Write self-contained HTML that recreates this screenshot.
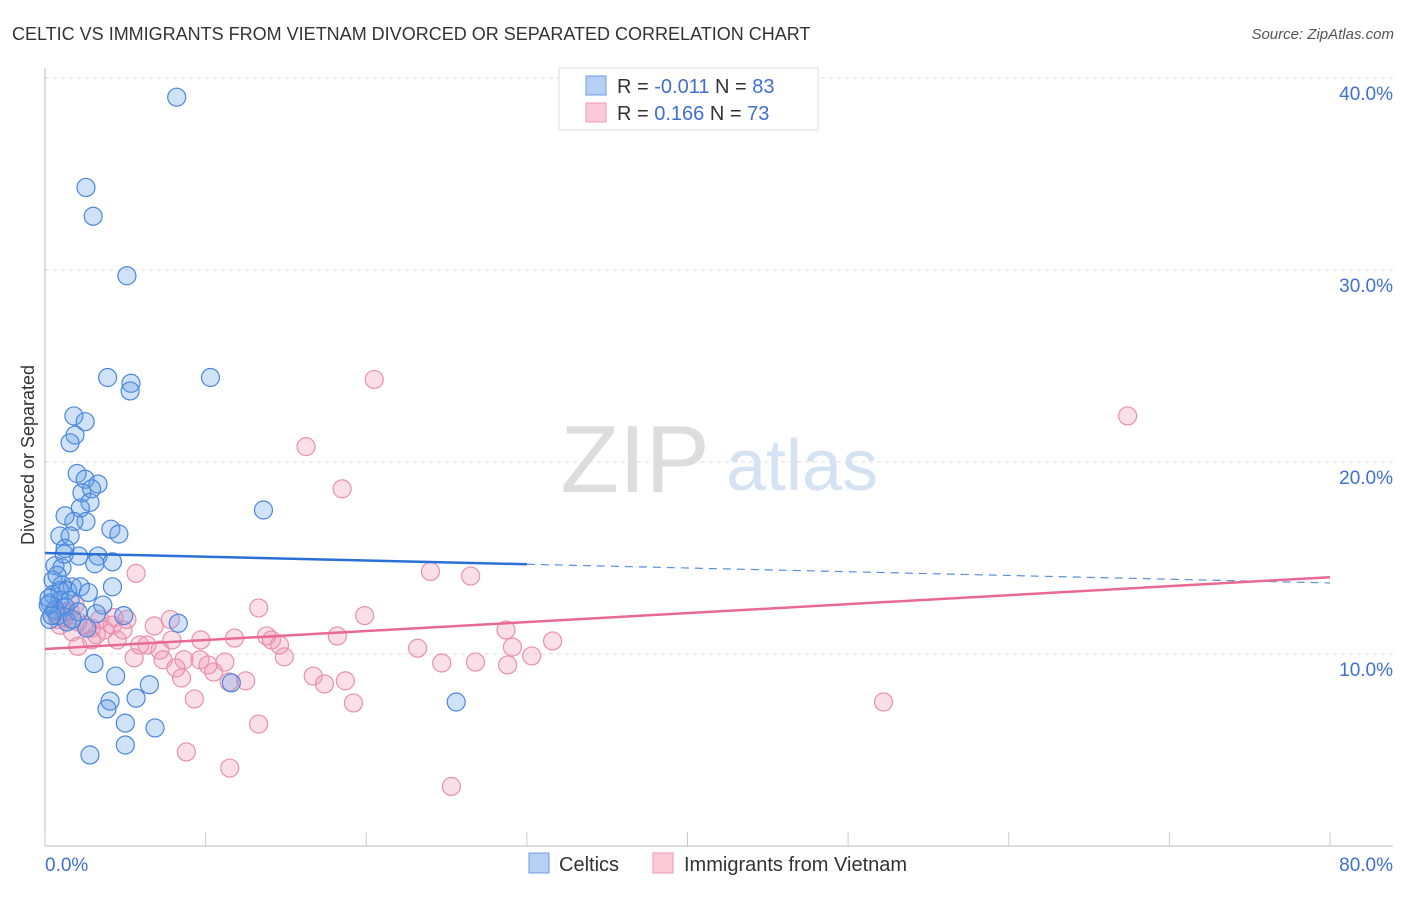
<!DOCTYPE html>
<html><head><meta charset="utf-8"><style>
body{margin:0;background:#fff;font-family:"Liberation Sans",sans-serif}
svg text{font-family:"Liberation Sans",sans-serif}
</style></head><body>
<svg id="c" width="1406" height="892" xmlns="http://www.w3.org/2000/svg">
<text x="12" y="40" font-size="18" fill="#333">CELTIC VS IMMIGRANTS FROM VIETNAM DIVORCED OR SEPARATED CORRELATION CHART</text>
<text x="1394" y="39" font-size="15" fill="#555" font-style="italic" text-anchor="end">Source: ZipAtlas.com</text>
<text x="635" y="492" font-size="96" fill="#ddd" font-family="Liberation Serif" text-anchor="middle">ZIP</text>
<text x="802" y="490" font-size="72" fill="#d5e2f3" text-anchor="middle">atlas</text>
<text transform="translate(34,455) rotate(-90)" font-size="18" fill="#333" text-anchor="middle">Divorced or Separated</text>
<g id="grid"></g><g id="pts"></g><g id="trend"></g>
<g>
<rect x="559" y="68" width="259" height="62" fill="#fff" stroke="#ddd"/>
<rect x="586" y="76" width="20" height="19" fill="#b6d0f3" stroke="#6e9be0"/>
<rect x="586" y="103" width="20" height="19" fill="#fbc9d8" stroke="#eb9ab5"/>
<text x="617" y="93" font-size="20" fill="#333">R = <tspan fill="#3f6fd1">-0.011</tspan>   N = <tspan fill="#3f6fd1">83</tspan></text>
<text x="617" y="120" font-size="20" fill="#333">R =  <tspan fill="#3f6fd1"> 0.166</tspan>   N = <tspan fill="#3f6fd1">73</tspan></text>
</g>
<g>
<rect x="529" y="853" width="20" height="20" fill="#b6d0f3" stroke="#6e9be0"/>
<text x="559" y="871" font-size="20" fill="#333">Celtics</text>
<rect x="653" y="853" width="20" height="20" fill="#fbc9d8" stroke="#eb9ab5"/>
<text x="684" y="871" font-size="20" fill="#333">Immigrants from Vietnam</text>
</g>
</svg>
<script>
const xTicksPct=[0,10,20,30,40,50,60,70,80];
const yTicks=[10,20,30,40];
const yTickLabels=["10.0%","20.0%","30.0%","40.0%"];
const xEndLabels=["0.0%","80.0%"];
const celticsX=[8.2,2.55,3.0,5.1,3.9,5.35,5.3,10.3,1.8,2.5,1.87,1.56,13.6,2.0,2.5,3.3,2.3,2.9,2.8,2.2,2.55,1.8,1.25,4.1,4.6,0.93,1.56,1.25,2.1,3.3,4.2,3.1,0.62,1.06,1.2,0.5,1.06,1.7,1.4,2.2,4.2,0.5,0.93,2.7,3.6,0.3,0.62,1.25,4.9,8.3,2.6,3.2,0.8,1.37,0.3,3.05,4.4,6.5,11.6,25.6,4.05,3.86,5.67,5.0,6.85,5.0,2.8,0.93,0.2,0.44,1.56,2.05,1.7,0.75,0.25];
const celticsY=[39.0,34.3,32.8,29.7,24.4,24.1,23.7,24.4,22.4,22.1,21.4,21.0,17.5,19.4,19.1,18.85,18.4,18.6,17.9,17.6,16.9,16.9,17.2,16.5,16.25,16.15,16.15,15.5,15.1,15.1,14.8,14.7,14.6,14.5,15.2,13.85,13.6,13.5,13.3,13.5,13.5,13.1,12.8,13.2,12.55,12.65,12.3,12.45,12.0,11.6,11.35,12.1,12.0,11.67,11.8,9.5,8.85,8.4,8.5,7.5,7.55,7.14,7.7,6.4,6.15,5.26,4.74,13.3,12.55,12.0,12.8,12.2,11.8,14.1,12.9];
const vietX=[20.5,67.4,16.25,18.5,5.67,24.0,26.5,13.3,19.9,4.3,7.8,6.8,5.1,3.7,2.9,2.05,1.2,0.62,0.93,1.7,2.05,3.2,4.5,5.55,6.35,7.15,7.9,8.65,9.7,11.8,13.8,14.1,14.9,16.7,17.4,18.2,18.7,19.2,23.2,24.7,26.8,28.7,28.8,29.1,30.3,31.6,9.65,11.2,10.5,12.5,9.3,8.8,11.5,13.3,25.3,52.2,8.5,7.35,8.15,4.2,3.4,2.5,1.56,0.8,4.86,5.9,10.15,11.46,14.6,2.9,1.3,1.87];
const vietY=[24.3,22.4,20.8,18.6,14.2,14.3,14.06,12.4,12.0,11.9,11.8,11.46,11.8,11.25,11.35,11.67,11.9,12.2,11.5,11.15,10.4,11.0,10.73,9.8,10.47,10.2,10.73,9.7,10.73,10.83,10.94,10.73,9.85,8.85,8.44,10.94,8.6,7.45,10.3,9.53,9.58,11.25,9.43,10.36,9.9,10.68,9.7,9.58,9.06,8.6,7.66,4.9,4.06,6.35,3.1,7.5,8.75,9.7,9.27,11.5,11.8,11.5,12.24,11.8,11.25,10.47,9.43,8.54,10.47,10.73,12.2,12.55];
const trendIntercepts=[15.26,10.26];
const trendEnds=[13.7,14.0];
const celticsSolidEnd=30;
const NS="http://www.w3.org/2000/svg";
const X=v=>45+v*(1285/80);
const Y=v=>654-(v-10)*19.2;
function mk(t,a,p){const e=document.createElementNS(NS,t);for(const k in a)e.setAttribute(k,a[k]);p.appendChild(e);return e;}
const grid=document.getElementById('grid');
yTicks.forEach((v,i)=>{
 const l=mk('line',{x1:45,x2:1393,y1:Y(v),y2:Y(v),stroke:'#ddd','stroke-dasharray':'4,4'},grid);
 
 
 const t=mk('text',{x:1393,y:Y(v)+22,'font-size':19,fill:'#3f6fd1','text-anchor':'end'},grid);
 t.textContent=yTickLabels[i];
 
 
});
const ax=mk('line',{x1:45,x2:45,y1:68,y2:846,stroke:'#bbb'},grid);


const bx=mk('line',{x1:45,x2:1393,y1:846,y2:846,stroke:'#bbb'},grid);


xTicksPct.forEach(v=>{const t=mk('line',{x1:X(v),x2:X(v),y1:832,y2:846,stroke:'#ccc'},grid);
 
 });
[[0,'start'],[80,'end']].forEach((a,i)=>{const t=mk('text',{x:a[0]==0?45:1393,y:871,'font-size':19,fill:'#3f6fd1','text-anchor':a[1]},grid);
 t.textContent=xEndLabels[i];
 
 });
const pts=document.getElementById('pts');
function draw(xs,ys,fill,stroke,name){xs.forEach((x,i)=>{const c=mk('circle',{cx:X(x),cy:Y(ys[i]),r:9,fill:fill,stroke:stroke,'stroke-width':1.2},pts);
 
 });}
draw(vietX,vietY,'rgba(243,150,180,0.3)','#ea8fae','vietnam-point');
draw(celticsX,celticsY,'rgba(100,160,230,0.3)','#4a86dc','celtics-point');
const tr=document.getElementById('trend');
const b=trendIntercepts[0],s=(trendEnds[0]-b)/80;
const l1=mk('line',{x1:X(0),y1:Y(b),x2:X(celticsSolidEnd),y2:Y(b+s*celticsSolidEnd),stroke:'#2a6fd6','stroke-width':2.5},tr);


const l2=mk('line',{x1:X(celticsSolidEnd),y1:Y(b+s*celticsSolidEnd),x2:X(80),y2:Y(trendEnds[0]),stroke:'#5b8fd9','stroke-width':1.2,'stroke-dasharray':'8,6'},tr);


const l3=mk('line',{x1:X(0),y1:Y(trendIntercepts[1]),x2:X(80),y2:Y(trendEnds[1]),stroke:'#e86a94','stroke-width':2.5},tr);


</script>
</body></html>
